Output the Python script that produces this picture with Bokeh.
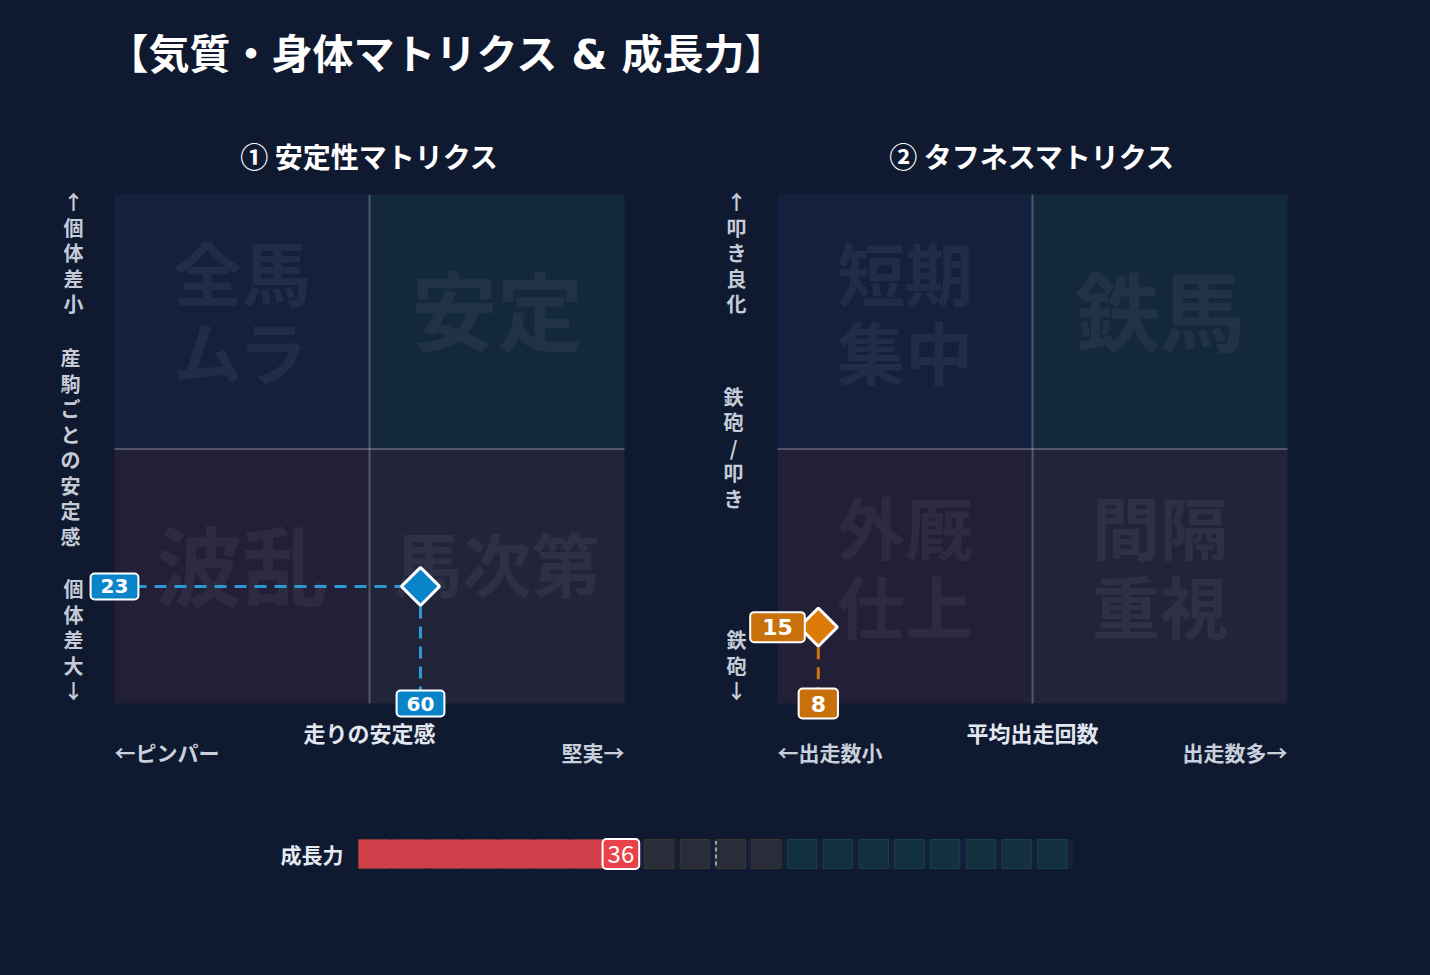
import numpy as np
from bokeh.plotting import figure
from bokeh.models import Range1d, ColumnDataSource, Label, LabelSet
from bokeh.layouts import column, row
from bokeh.embed import file_html
from bokeh.resources import INLINE
from bokeh.core.properties import value

# ---------------- data ----------------
TITLE = "【気質・身体マトリクス & 成長力】"

m1_title = "① 安定性マトリクス"
m1_quadrants = ["全馬\nムラ", "安定", "波乱", "馬次第"]      # TL, TR, BL, BR
m1_x_label, m1_x_low, m1_x_high = "走りの安定感", "←ピンパー", "堅実→"
m1_y_high, m1_y_mid, m1_y_low = "↑個体差小", "産駒ごとの安定感", "個体差大↓"
m1_x, m1_y = 60, 23

m2_title = "② タフネスマトリクス"
m2_quadrants = ["短期\n集中", "鉄馬", "外厩\n仕上", "間隔\n重視"]
m2_x_label, m2_x_low, m2_x_high = "平均出走回数", "←出走数小", "出走数多→"
m2_y_high, m2_y_mid, m2_y_low = "↑叩き良化", "鉄砲/叩き", "鉄砲↓"
m2_x, m2_y = 8, 15

growth_label = "成長力"
growth_value = 36
growth_marker = 50
growth_steps = list(range(0, 100, 5))        # 20 cells of 5
growth_teal_from = 60

# ---------------- style / layout ----------------
BG = "#0f1930"
JP = "Noto Sans CJK JP"
NUM = "DejaVu Sans, Noto Sans CJK JP"
QUAD_COLORS = ["#13213f", "#13283b", "#221f37", "#22253a"]

PAGE_W = 1430
HEAD_H = 178
MAT_H = 620
GROW_H = 172
SPLIT = 700


def span_range(p0, p1, v0, v1, c0, c1):
    """range so that value v0 sits at pixel p0 and v1 at pixel p1 on a canvas c0..c1"""
    s = (p1 - p0) / (v1 - v0)
    return Range1d(v0 - (p0 - c0) / s, v1 + (c1 - p1) / s)


def base_fig(w, h, xr, yr):
    p = figure(width=w, height=h, x_range=xr, y_range=yr, toolbar_location=None,
               output_backend="svg", x_axis_location=None, y_axis_location=None,
               min_border_left=0, min_border_right=0, min_border_top=0,
               min_border_bottom=0, title=None)
    p.grid.visible = False
    p.outline_line_color = None
    p.background_fill_color = BG
    p.border_fill_color = BG
    return p


def vstack(p, text, anchor_y, first_offset, xo, direction, color):
    chars = list(text)
    n = len(chars)
    pitch = 25.5
    if direction == "down":
        yo = [first_offset - pitch * i for i in range(n)]
    elif direction == "up":
        yo = [first_offset + pitch * (n - 1 - i) for i in range(n)]
    else:
        yo = [first_offset + pitch * ((n - 1) / 2 - i) for i in range(n)]
    src = ColumnDataSource(dict(text=chars, x=[0] * n, y=[anchor_y] * n, yo=yo, xo=[xo] * n))
    p.add_layout(LabelSet(x="x", y="y", text="text", x_offset="xo", y_offset="yo", source=src,
                          text_align="center", text_baseline="middle",
                          text_font=value(JP), text_font_size=value("20px"),
                          text_font_style="bold", text_color=color))


def quad_labels(p, quads, sizes):
    centers = [(25, 75), (75, 75), (25, 25), (75, 25)]
    rows = dict(x=[], y=[], text=[], yo=[], fs=[])
    for (cx, cy), t, fs in zip(centers, quads, sizes):
        lines = t.split("\n")
        n = len(lines)
        shift = 14 if n == 1 else 11
        for j, ln in enumerate(lines):
            rows["x"].append(cx)
            rows["y"].append(cy)
            rows["text"].append(ln)
            rows["yo"].append(shift + ((n - 1) / 2 - j) * 79)
            rows["fs"].append(fs)
    p.add_layout(LabelSet(x="x", y="y", text="text", y_offset="yo", text_font_size="fs",
                          source=ColumnDataSource(rows), text_align="center",
                          text_baseline="middle", text_font=value(JP), text_font_style="bold",
                          text_color="white", text_alpha=0.055, level="underlay"))


def matrix(fig_x0, fig_w, frame_x0, quads, qsizes, xlab, xlow, xhigh, ytop, ymid, ybot,
           px, py, marker_fill, box_fill, dash_color, lab_size, lab_pad):
    frame_x1 = frame_x0 + 510
    xr = span_range(frame_x0, frame_x1, 0, 100, fig_x0, fig_x0 + fig_w)
    # y: value 0 at page 703, value 100 at page 194 ; canvas page HEAD_H .. HEAD_H+MAT_H
    s = (703 - 194) / 100
    yr = Range1d(0 - (HEAD_H + MAT_H - 703) / s, 100 + (194 - HEAD_H) / s)
    p = base_fig(fig_w, MAT_H, xr, yr)

    src = ColumnDataSource(dict(left=[0, 50, 0, 50], right=[50, 100, 50, 100],
                                bottom=[50, 50, 0, 0], top=[100, 100, 50, 50],
                                color=QUAD_COLORS))
    p.quad(left="left", right="right", bottom="bottom", top="top", fill_color="color",
           line_color=None, source=src, level="image")
    quad_labels(p, quads, qsizes)
    p.segment(x0=[50, 0], y0=[0, 50], x1=[50, 100], y1=[100, 50], line_color="white",
              line_alpha=0.24, line_width=2)

    p.line([0, px], [py, py], line_color=dash_color, line_width=3, line_dash="12 8")
    p.line([px, px], [py, 0], line_color=dash_color, line_width=3, line_dash="12 8")
    p.scatter([px], [py], marker="square", angle=np.pi / 4, size=27,
              fill_color=marker_fill, line_color="white", line_width=3)

    for (x, y, t) in [(0, py, str(py)), (px, 0, str(px))]:
        p.add_layout(Label(x=x, y=y, text=t, text_align="center", text_baseline="middle",
                           text_color="white", text_font=NUM, text_font_style="bold",
                           text_font_size=lab_size, background_fill_color=box_fill,
                           border_line_color="white", border_line_width=2, border_radius=4,
                           padding=lab_pad))

    p.add_layout(Label(x=50, y=0, y_offset=-28, text=xlab, text_align="center",
                       text_baseline="middle", text_color="#e2e7f0", text_font=JP,
                       text_font_style="bold", text_font_size="22px"))
    p.add_layout(Label(x=0, y=0, y_offset=-48, text=xlow, text_align="left",
                       text_baseline="middle", text_color="#c8d0dc", text_font=JP,
                       text_font_style="bold", text_font_size="21px"))
    p.add_layout(Label(x=100, y=0, y_offset=-48, text=xhigh, text_align="right",
                       text_baseline="middle", text_color="#c8d0dc", text_font=JP,
                       text_font_style="bold", text_font_size="21px"))

    vstack(p, ytop, 100, -7, -41, "down", "#c5ccd8")
    vstack(p, ymid, 50, 2, -44, "mid", "#c5ccd8")
    vstack(p, ybot, 0, 13, -41, "up", "#c5ccd8")
    return p


# header (data units = page pixels)
header = base_fig(PAGE_W, HEAD_H, Range1d(0, PAGE_W), Range1d(HEAD_H, 0))
header.add_layout(Label(x=107, y=54, text=TITLE, text_align="left", text_baseline="middle",
                        text_color="white", text_font=NUM, text_font_style="bold",
                        text_font_size="41px"))
for (x, t) in [(369, m1_title), (1032, m2_title)]:
    header.add_layout(Label(x=x, y=155, text=t, text_align="center", text_baseline="middle",
                            text_color="white", text_font=JP, text_font_style="bold",
                            text_font_size="28px"))

left = matrix(0, SPLIT, 114, m1_quadrants, ["69px", "86px", "86px", "69px"],
              m1_x_label, m1_x_low, m1_x_high, m1_y_high, m1_y_mid, m1_y_low,
              m1_x, m1_y, "#0a84c8", "#0a84c8", "#2a9ad6", "20px", (10, 6))
right = matrix(SPLIT, PAGE_W - SPLIT, 777, m2_quadrants, ["68px", "85px", "68px", "68px"],
               m2_x_label, m2_x_low, m2_x_high, m2_y_high, m2_y_mid, m2_y_low,
               m2_x, m2_y, "#dc7a0a", "#c8700c", "#d0760c", "22px", (12, 7))

# growth bar: value 0 at page x 358, 100 at 1073; bar from page y 839 to 868
gy0 = HEAD_H + MAT_H
gxr = span_range(358, 1073, 0, 100, 0, PAGE_W)
gs = 868 - 839
gyr = Range1d(0 - (gy0 + GROW_H - 868) / gs, 1 + (839 - gy0) / gs)
g = base_fig(PAGE_W, GROW_H, gxr, gyr)
g.quad(left=[0], right=[100], bottom=[0], top=[1], fill_color="#131f3b", line_color=None)
seg_left = [s for s in growth_steps]
seg_right = [s + 4.1 for s in growth_steps]
seg_fill = ["#13303f" if s >= growth_teal_from else "#292d3a" for s in growth_steps]
seg_line = ["#17404c" if s >= growth_teal_from else "#3b3629" for s in growth_steps]
g.quad(left=seg_left, right=seg_right, bottom=[0] * len(growth_steps), top=[1] * len(growth_steps),
       fill_color=seg_fill, line_color=seg_line, line_width=1)
g.quad(left=[0], right=[growth_value], bottom=[0], top=[1], fill_color="#d6414a",
       fill_alpha=0.96, line_color=None)
g.segment(x0=[growth_marker], y0=[0.1], x1=[growth_marker], y1=[0.95], line_color="#a0a6b0",
          line_width=2, line_dash="4 3")
g.add_layout(Label(x=growth_value, y=0.5, x_offset=5, text=str(growth_value), text_align="center",
                   text_baseline="middle", text_color="white", text_font=JP,
                   text_font_size="24px", background_fill_color="#e8434a",
                   border_line_color="white", border_line_width=2, border_radius=4,
                   padding=(5, 6)))
g.add_layout(Label(x=0, y=0.5, x_offset=-15, text=growth_label, text_align="right",
                   text_baseline="middle", text_color="#e6ebf2", text_font=JP,
                   text_font_style="bold", text_font_size="21px"))

layout = column(header, row(left, right), g)

html = file_html(layout, INLINE, title="気質・身体マトリクス & 成長力")
html = html.replace("</head>", "<style>html,body{background:%s;}</style></head>" % BG, 1)
open("out.html", "w").write(html)
